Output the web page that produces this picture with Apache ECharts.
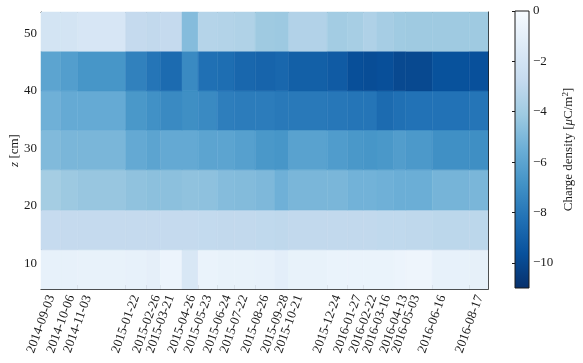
<!DOCTYPE html>
<html>
<head>
<meta charset="utf-8">
<script src="https://cdn.jsdelivr.net/npm/echarts@6/dist/echarts.min.js"></script>
<style>html,body{margin:0;padding:0;background:#fff;}#c{width:583px;height:363px;}</style>
</head>
<body>
<div id="c"></div>
<script>
// ---- data ----
const dates = ['2014-09-03','2014-10-06','2014-11-03','2015-01-22','2015-02-26','2015-03-21','2015-04-26',
  '2015-05-23','2015-06-24','2015-07-22','2015-08-26','2015-09-28','2015-10-21','2015-12-24','2016-01-27',
  '2016-02-22','2016-03-16','2016-04-13','2016-05-03','2016-06-16','2016-08-17'];
const endDate = '2016-09-17';
const zEdges = [5.6, 12.4, 19.3, 26.3, 33.2, 40.0, 46.9, 53.7];
const yTicks = [10, 20, 30, 40, 50];
const cbTicks = [0, -2, -4, -6, -8, -10];
const cbMin = -11, cbMax = 0;
// charge density per row (bottom row first), one value per date column
const row0 = [-0.9,-0.9,-0.8,-0.9,-1.0,-0.6,-1.7,-0.7,-0.8,-0.8,-0.9,-1.1,-0.8,-0.7,-0.7,-0.7,-0.7,-0.6,-0.5,-0.9,-0.95];
const row1 = [-2.75,-2.8,-2.8,-2.8,-2.8,-2.8,-2.8,-2.85,-2.9,-2.9,-2.95,-3.0,-2.9,-2.9,-2.9,-2.9,-2.95,-2.95,-3.0,-3.1,-3.1];
const row2 = [-3.9,-4.15,-4.3,-4.5,-4.6,-4.6,-4.5,-4.55,-4.8,-4.85,-5.0,-5.4,-5.1,-5.1,-5.3,-5.3,-5.4,-5.5,-5.5,-5.2,-5.1];
const row3 = [-4.9,-5.1,-5.1,-5.75,-6.0,-5.75,-5.75,-6.0,-6.0,-6.2,-6.6,-6.7,-6.1,-6.4,-6.6,-6.7,-6.6,-6.35,-6.55,-6.95,-7.0];
const row4 = [-5.4,-5.7,-5.7,-6.6,-6.9,-7.2,-7.0,-7.2,-7.7,-7.8,-7.8,-7.9,-7.9,-8.0,-8.1,-8.1,-8.5,-8.3,-8.2,-8.2,-8.1];
const row5 = [-6.0,-6.3,-6.7,-7.6,-8.1,-8.5,-7.2,-8.3,-8.4,-8.7,-8.8,-8.7,-9.0,-9.2,-9.7,-9.8,-9.7,-9.95,-9.95,-9.6,-9.65];
const row6 = [-2.0,-2.0,-1.8,-2.8,-2.9,-2.8,-4.8,-3.35,-3.4,-3.5,-4.1,-4.15,-3.45,-3.95,-3.8,-3.55,-3.85,-4.05,-4.1,-4.1,-4.1];
const rows = [row0, row1, row2, row3, row4, row5, row6];
const blues = ['#f7fbff','#deebf7','#c6dbef','#9ecae1','#6baed6','#4292c6','#2171b5','#08519c','#08306b'];

// ---- build ----
const FONT = 'Liberation Serif';
const INK = '#1a1a1a';
const ts = d => Date.parse(d + 'T00:00:00Z');
const xs = dates.map(ts);
const xEdges = xs.concat([ts(endDate)]);
const cells = [];
rows.forEach((r, j) => r.forEach((v, i) => {
  cells.push([xEdges[i], xEdges[i + 1], zEdges[j], zEdges[j + 1], v]);
}));
const fmtDate = v => new Date(v).toISOString().slice(0, 10);
const fmtNum = v => (v < 0 ? '\u2212' + Math.abs(v) : String(v));

const chart = echarts.init(document.getElementById('c'), null, {renderer: 'canvas'});
const txt = {fontFamily: FONT, fontSize: 13, color: INK};

chart.setOption({
  animation: false,
  backgroundColor: '#fff',
  grid: [
    {left: 41, right: 95, top: 12, bottom: 74, outerBoundsMode: 'none', containLabel: false},
    {left: 515, width: 14, top: 11, height: 277, outerBoundsMode: 'none', containLabel: false}
  ],
  xAxis: [
    {type: 'value', gridIndex: 0, min: xEdges[0], max: xEdges[xEdges.length - 1],
     axisLine: {show: true, onZero: false, lineStyle: {color: INK, width: 1}},
     splitLine: {show: false},
     axisTick: {show: true, inside: true, length: 4, customValues: xs, lineStyle: {color: INK}},
     axisLabel: Object.assign({customValues: xs, formatter: fmtDate, rotate: 70, align: 'center',
       verticalAlign: 'middle', margin: 35, hideOverlap: false}, txt)},
    {type: 'value', gridIndex: 1, min: 0, max: 1, show: false},
    {type: 'value', gridIndex: 0, position: 'top', min: xEdges[0], max: xEdges[xEdges.length - 1],
     axisLine: {show: true, onZero: false, lineStyle: {color: INK, width: 1}},
     axisTick: {show: false}, axisLabel: {show: false}, splitLine: {show: false}}
  ],
  yAxis: [
    {type: 'value', gridIndex: 0, min: zEdges[0], max: zEdges[zEdges.length - 1],
     axisLine: {show: true, onZero: false, lineStyle: {color: INK, width: 1}},
     splitLine: {show: false},
     axisTick: {show: true, inside: true, length: 4, customValues: yTicks, lineStyle: {color: INK}},
     axisLabel: Object.assign({customValues: yTicks, margin: 4, hideOverlap: false}, txt),
     name: '{i|z} [cm]', nameLocation: 'middle', nameGap: 20, nameMoveOverlap: false,
     nameTextStyle: Object.assign({rich: {i: {fontStyle: 'italic', fontFamily: FONT, fontSize: 13, color: INK}}}, txt)},
    {type: 'value', gridIndex: 1, position: 'right', min: cbMin, max: cbMax,
     axisLine: {show: false},
     splitLine: {show: false},
     axisTick: {show: true, inside: true, length: 3, customValues: cbTicks, lineStyle: {color: INK}},
     axisLabel: Object.assign({customValues: cbTicks, formatter: fmtNum, margin: 4, hideOverlap: false}, txt),
     name: 'Charge density [{i|\u03bc}C/m{s|2}]', nameLocation: 'middle', nameGap: 32, nameRotate: 90,
     nameMoveOverlap: false,
     nameTextStyle: Object.assign({rich: {
       i: {fontStyle: 'italic', fontFamily: FONT, fontSize: 13, color: INK},
       s: {fontFamily: FONT, fontSize: 9, color: INK, verticalAlign: 'top', padding: [0, 0, 6, 0]}
     }}, txt)},
    {type: 'value', gridIndex: 0, position: 'right', min: zEdges[0], max: zEdges[zEdges.length - 1],
     axisLine: {show: true, onZero: false, lineStyle: {color: INK, width: 1}},
     axisTick: {show: false}, axisLabel: {show: false}, splitLine: {show: false}}
  ],
  visualMap: {type: 'continuous', show: false, min: cbMin, max: cbMax, dimension: 4, seriesIndex: 0,
    inRange: {color: blues.slice().reverse()}},
  series: [
    {type: 'custom', xAxisIndex: 0, yAxisIndex: 0, data: cells, encode: {x: [0, 1], y: [2, 3]}, z: 1,
     renderItem: (params, api) => {
       const p0 = api.coord([api.value(0), api.value(3)]);
       const p1 = api.coord([api.value(1), api.value(2)]);
       const c = api.visual('color');
       return {type: 'rect', shape: {x: p0[0], y: p0[1], width: p1[0] - p0[0], height: p1[1] - p0[1]},
         style: {fill: c, stroke: c, lineWidth: 0.5}};
     }},
    {type: 'custom', xAxisIndex: 1, yAxisIndex: 1, data: [[0, 1, cbMin, cbMax]], encode: {x: [0, 1], y: [2, 3]},
     renderItem: (params, api) => {
       const p0 = api.coord([api.value(0), api.value(3)]);
       const p1 = api.coord([api.value(1), api.value(2)]);
       const stops = blues.map((c, k) => ({offset: k / (blues.length - 1), color: c}));
       return {type: 'rect', shape: {x: p0[0], y: p0[1], width: p1[0] - p0[0], height: p1[1] - p0[1]},
         style: {fill: new echarts.graphic.LinearGradient(0, 0, 0, 1, stops), stroke: INK, lineWidth: 1}};
     }}
  ]
});
</script>
</body>
</html>
